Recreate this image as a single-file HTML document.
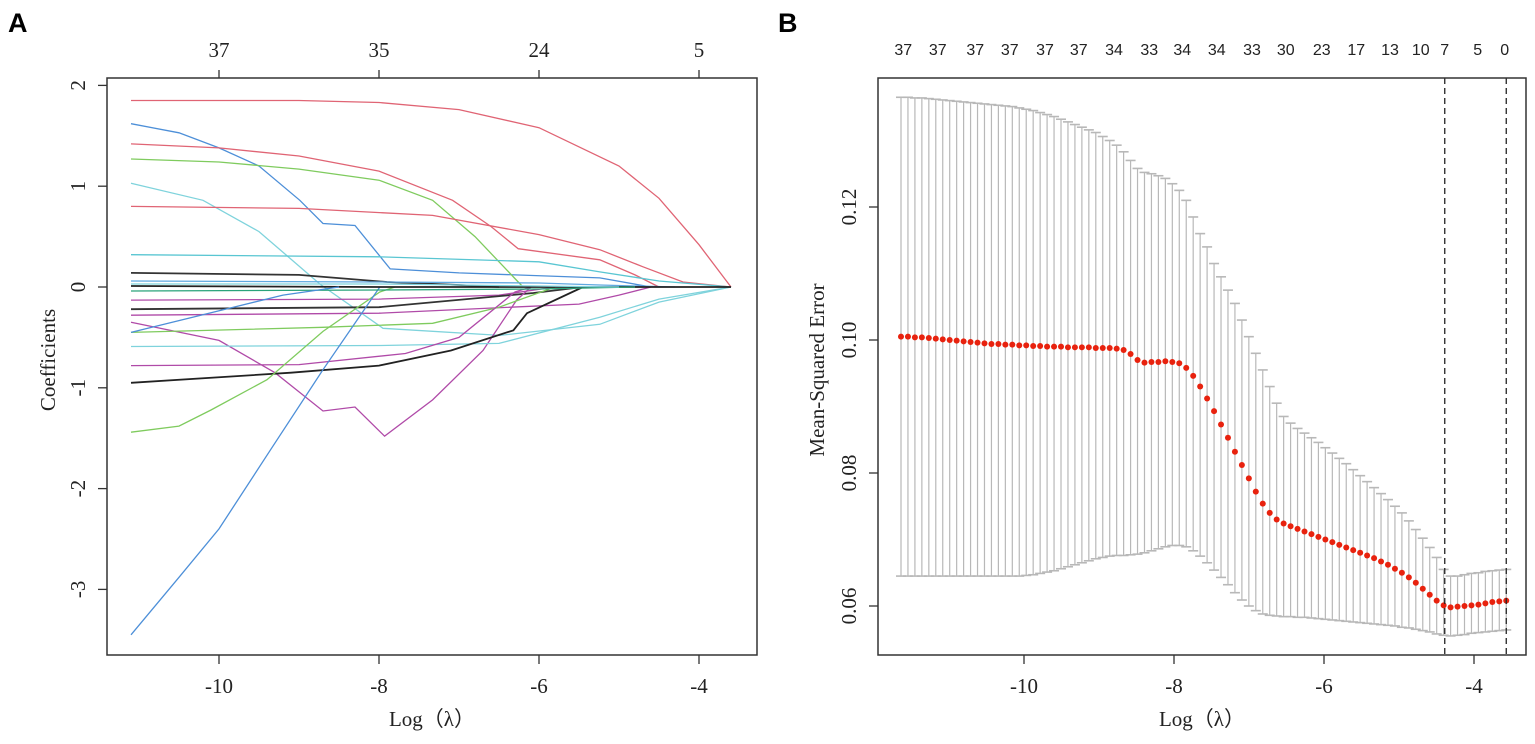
<!DOCTYPE html>
<html><head><meta charset="utf-8"><style>
html,body{margin:0;padding:0;background:#fff;}
svg{display:block;}
</style></head><body>
<svg id="fig" width="1535" height="744" viewBox="0 0 1535 744" xmlns="http://www.w3.org/2000/svg">
<text x="8" y="32" font-family="Liberation Sans, sans-serif" font-weight="bold" font-size="27">A</text>
<text x="778" y="32" font-family="Liberation Sans, sans-serif" font-weight="bold" font-size="27">B</text>
<g id="pa"></g>
<g id="pb"></g>
</svg>
<script>
// ---------- Panel A data ----------
const aXTicks = [-10, -8, -6, -4];
const aYTicks = [2, 1, 0, -1, -2, -3];
const aTopTickPos = [-10, -8, -6, -4];
const aTopTickLabels = ["37", "35", "24", "5"];
const aColors = ["#e06474","#4d8fd8","#e06474","#7fcb5e","#7fd3dc","#e06474","#59c6d2","#333333","#5fa8e0","#b04aa8","#333333","#b04aa8","#b04aa8","#7fcb5e","#7fd3dc","#b04aa8","#222222","#7fcb5e","#4d8fd8","#222222","#2aa37a","#7fd3dc","#4d8fd8"];
const aPaths = [
 [[-11.1,1.85],[-9,1.85],[-8,1.83],[-7,1.76],[-6,1.58],[-5,1.2],[-4.5,0.88],[-4,0.42],[-3.6,0]],
 [[-11.1,1.62],[-10.5,1.53],[-10,1.38],[-9.5,1.2],[-8.99,0.86],[-8.7,0.63],[-8.3,0.61],[-7.86,0.18],[-7,0.14],[-5.24,0.09],[-4.6,0]],
 [[-11.1,1.42],[-10,1.38],[-9,1.3],[-8,1.15],[-7.08,0.86],[-6.6,0.6],[-6.26,0.38],[-5.24,0.27],[-4.8,0.12],[-4.5,0]],
 [[-11.1,1.27],[-10,1.24],[-9,1.17],[-8,1.06],[-7.33,0.86],[-6.8,0.5],[-6.2,0]],
 [[-11.1,1.03],[-10.2,0.86],[-9.5,0.55],[-8.74,0.03],[-7.95,-0.41],[-6.49,-0.48],[-5.24,-0.37],[-4.5,-0.15],[-3.6,0]],
 [[-11.1,0.8],[-9,0.78],[-7.33,0.71],[-6,0.52],[-5.24,0.37],[-4.7,0.2],[-4.2,0.05],[-3.6,0]],
 [[-11.1,0.32],[-8,0.3],[-6,0.25],[-5.24,0.15],[-4.5,0.06],[-3.6,0]],
 [[-11.1,0.14],[-9,0.12],[-7.9,0.05],[-7,0.02],[-6.5,0]],
 [[-11.1,0.06],[-8,0.05],[-6,0.04],[-5.24,0.02],[-4.3,0]],
 [[-11.1,-0.13],[-8,-0.12],[-6.5,-0.08],[-5.8,0]],
 [[-11.1,-0.22],[-8,-0.2],[-6.07,-0.06],[-5.45,0]],
 [[-11.1,-0.28],[-8,-0.26],[-5.5,-0.17],[-5,-0.08],[-4.6,0]],
 [[-11.1,-0.35],[-10,-0.53],[-9.3,-0.85],[-8.7,-1.23],[-8.3,-1.19],[-7.93,-1.48],[-7.33,-1.12],[-6.7,-0.63],[-6.28,-0.13],[-6.1,0]],
 [[-11.1,-0.45],[-8.7,-0.4],[-7.33,-0.36],[-6.5,-0.2],[-5.8,0]],
 [[-11.1,-0.59],[-8,-0.58],[-6.5,-0.56],[-5.24,-0.3],[-4.5,-0.12],[-3.6,0]],
 [[-11.1,-0.78],[-9,-0.77],[-7.67,-0.66],[-7,-0.5],[-6.3,-0.05],[-6.1,0]],
 [[-11.1,-0.95],[-9.1,-0.85],[-8,-0.78],[-7.1,-0.63],[-6.32,-0.43],[-6.15,-0.26],[-5.45,0]],
 [[-11.1,-1.44],[-10.5,-1.38],[-10.1,-1.22],[-9.4,-0.92],[-8.7,-0.44],[-7.99,-0.05],[-7.8,0]],
 [[-11.1,-3.45],[-10.5,-2.88],[-10,-2.4],[-9.36,-1.62],[-8.7,-0.82],[-7.99,0]],
 [[-11.1,0.01],[-8,0.0],[-3.6,0]],
 [[-11.1,-0.04],[-8,-0.03],[-6,-0.02],[-4.8,0]],
 [[-11.1,0.03],[-8,0.03],[-6,0.01],[-5,0]],
 [[-11.1,-0.45],[-9.82,-0.2],[-9.2,-0.08],[-8.5,0]]
];
// ---------- Panel B data ----------
const bXTicks = [-10, -8, -6, -4];
const bYTicks = [0.06, 0.08, 0.10, 0.12];
const bYTickLabels = ["0.06", "0.08", "0.10", "0.12"];
const bTopPos = [-11.61,-11.15,-10.65,-10.19,-9.72,-9.27,-8.80,-8.33,-7.89,-7.43,-6.96,-6.51,-6.03,-5.57,-5.12,-4.71,-4.39,-3.95,-3.59];
const bTopLabels = ["37","37","37","37","37","37","34","33","34","34","33","30","23","17","13","10","7","5","0"];
const bLambdaStart = -11.64, bLambdaEnd = -3.57;
const bMean = [0.1005,0.1005,0.1004,0.1004,0.1003,0.1002,0.1001,0.1000,0.0999,0.0998,
0.0997,0.0996,0.0995,0.0994,0.0994,0.0993,0.0993,0.0992,0.0992,0.0991,
0.0991,0.0990,0.0990,0.0990,0.0989,0.0989,0.0989,0.0989,0.0988,0.0988,
0.0988,0.0987,0.0985,0.0979,0.0970,0.0966,0.0967,0.0967,0.0968,0.0967,
0.0965,0.0958,0.0946,0.0930,0.0912,0.0893,0.0873,0.0853,0.0832,0.0812,
0.0792,0.0772,0.0754,0.0740,0.0730,0.0724,0.0720,0.0716,0.0712,0.0708,
0.0704,0.0700,0.0696,0.0692,0.0688,0.0684,0.0680,0.0676,0.0672,0.0667,
0.0662,0.0656,0.0650,0.0643,0.0635,0.0626,0.0617,0.0608,0.0601,0.0598,
0.0599,0.0600,0.0601,0.0602,0.0604,0.0606,0.0607,0.0608];
const bUpper = [0.1365,0.1365,0.1364,0.1364,0.1363,0.1362,0.1361,0.1360,0.1359,0.1358,
0.1357,0.1356,0.1355,0.1354,0.1353,0.1352,0.1351,0.1349,0.1347,0.1345,
0.1342,0.1339,0.1336,0.1332,0.1328,0.1324,0.1320,0.1316,0.1312,0.1306,
0.1300,0.1293,0.1283,0.1270,0.1258,0.1252,0.1250,0.1247,0.1243,0.1235,
0.1225,0.1210,0.1185,0.1160,0.1140,0.1115,0.1095,0.1075,0.1055,0.1030,
0.1005,0.0980,0.0955,0.0930,0.0905,0.0885,0.0875,0.0867,0.0860,0.0853,
0.0846,0.0838,0.0830,0.0822,0.0814,0.0805,0.0796,0.0787,0.0778,0.0769,
0.0760,0.0750,0.0740,0.0728,0.0715,0.0702,0.0688,0.0673,0.0655,0.0645,
0.0645,0.0647,0.0649,0.0650,0.0652,0.0653,0.0654,0.0655];
const bLower = [0.0645,0.0645,0.0645,0.0645,0.0645,0.0645,0.0645,0.0645,0.0645,0.0645,
0.0645,0.0645,0.0645,0.0645,0.0645,0.0645,0.0645,0.0645,0.0646,0.0647,
0.0649,0.0651,0.0653,0.0656,0.0659,0.0662,0.0665,0.0668,0.0671,0.0673,
0.0675,0.0676,0.0676,0.0677,0.0678,0.0680,0.0683,0.0686,0.0689,0.0691,
0.0691,0.0689,0.0683,0.0675,0.0665,0.0654,0.0643,0.0632,0.0620,0.0609,
0.0600,0.0593,0.0588,0.0586,0.0585,0.0584,0.0584,0.0583,0.0583,0.0582,
0.0581,0.0580,0.0579,0.0578,0.0577,0.0576,0.0575,0.0574,0.0573,0.0572,
0.0571,0.0570,0.0568,0.0567,0.0565,0.0563,0.0561,0.0558,0.0556,0.0555,
0.0556,0.0557,0.0559,0.0560,0.0561,0.0562,0.0563,0.0564];
const bVLines = [-4.39, -3.57];

const NS = "http://www.w3.org/2000/svg";
function mk(parent, tag, attrs, text) {
  const e = document.createElementNS(NS, tag);
  for (const k in attrs) e.setAttribute(k, attrs[k]);
  if (text !== undefined) e.textContent = text;
  parent.appendChild(e);
  return e;
}
const SERIF = "Liberation Serif, serif";
const SANS = "Liberation Sans, sans-serif";

// ---------- Panel A ----------
(function(){
  const g = document.getElementById('pa');
  const L = 107, R = 757, T = 78, B = 655;
  const X = v => 219 + (v + 10) * 80;
  const Y = v => 287 - v * 100.8;
  aPaths.forEach((p, i) => {
    const pl = mk(g, 'polyline', {points: p.map(q => X(q[0]).toFixed(1) + ',' + Y(q[1]).toFixed(1)).join(' '), fill: 'none', stroke: aColors[i % aColors.length], 'stroke-width': (aColors[i] === '#333333' || aColors[i] === '#222222') ? 1.8 : 1.3});
    
    
  });
  const box = mk(g, 'rect', {x: L, y: T, width: R - L, height: B - T, fill: 'none', stroke: '#333', 'stroke-width': 1.5});
  
  
  aXTicks.forEach(v => {
    const t = mk(g, 'line', {x1: X(v), x2: X(v), y1: B, y2: B + 9, stroke: '#333', 'stroke-width': 1.3});
    
    
    const l = mk(g, 'text', {x: X(v), y: B + 38, 'text-anchor': 'middle', 'font-family': SERIF, 'font-size': 21, fill: '#222'}, String(v));
    
    
  });
  aYTicks.forEach(v => {
    const t = mk(g, 'line', {x1: L - 9, x2: L, y1: Y(v), y2: Y(v), stroke: '#333', 'stroke-width': 1.3});
    
    
    const l = mk(g, 'text', {x: 0, y: 0, 'text-anchor': 'middle', 'font-family': SERIF, 'font-size': 21, fill: '#222', transform: 'translate(' + (L - 22) + ',' + Y(v) + ') rotate(-90)'}, String(v));
    
    
  });
  aTopTickPos.forEach((v, i) => {
    const t = mk(g, 'line', {x1: X(v), x2: X(v), y1: T - 8, y2: T, stroke: '#333', 'stroke-width': 1.3});
    
    
    const l = mk(g, 'text', {x: X(v), y: 57, 'text-anchor': 'middle', 'font-family': SERIF, 'font-size': 21, fill: '#222'}, aTopTickLabels[i]);
    
    
  });
  const xt = mk(g, 'text', {x: 432, y: 726, 'text-anchor': 'middle', 'font-family': SERIF + ', Noto Sans CJK SC', 'font-size': 21, fill: '#222'}, 'Log（λ）');
  
  
  const yt = mk(g, 'text', {x: 0, y: 0, 'text-anchor': 'middle', 'font-family': SERIF, 'font-size': 21, fill: '#222', transform: 'translate(55,360) rotate(-90)'}, 'Coefficients');
  
  
})();

// ---------- Panel B ----------
(function(){
  const g = document.getElementById('pb');
  const L = 878, R = 1526, T = 78, B = 655;
  const X = v => 1474 + (v + 4) * 75;
  const Y = v => 606 - (v - 0.06) * 6650;
  const n = bMean.length;
  const step = (bLambdaEnd - bLambdaStart) / (n - 1);
  for (let i = 0; i < n; i++) {
    const lx = X(bLambdaStart + i * step);
    const bar = mk(g, 'line', {x1: lx, x2: lx, y1: Y(bUpper[i]), y2: Y(bLower[i]), stroke: '#b8b8b8', 'stroke-width': 1.2});
    
    
    const c1 = mk(g, 'line', {x1: lx - 5, x2: lx + 5, y1: Y(bUpper[i]), y2: Y(bUpper[i]), stroke: '#b8b8b8', 'stroke-width': 1.6});
    
    
    const c2 = mk(g, 'line', {x1: lx - 5, x2: lx + 5, y1: Y(bLower[i]), y2: Y(bLower[i]), stroke: '#b8b8b8', 'stroke-width': 1.6});
    
    
  }
  for (let i = 0; i < n; i++) {
    const d = mk(g, 'circle', {cx: X(bLambdaStart + i * step), cy: Y(bMean[i]), r: 3, fill: '#e8220e'});
    
    
  }
  bVLines.forEach(v => {
    const l = mk(g, 'line', {x1: X(v), x2: X(v), y1: T, y2: B, stroke: '#222', 'stroke-width': 1.3, 'stroke-dasharray': '6,4'});
    
    
  });
  const box = mk(g, 'rect', {x: L, y: T, width: R - L, height: B - T, fill: 'none', stroke: '#333', 'stroke-width': 1.5});
  
  
  bXTicks.forEach(v => {
    const t = mk(g, 'line', {x1: X(v), x2: X(v), y1: B, y2: B + 9, stroke: '#333', 'stroke-width': 1.3});
    
    
    const l = mk(g, 'text', {x: X(v), y: B + 38, 'text-anchor': 'middle', 'font-family': SERIF, 'font-size': 21, fill: '#222'}, String(v));
    
    
  });
  bYTicks.forEach((v, i) => {
    const t = mk(g, 'line', {x1: L - 9, x2: L, y1: Y(v), y2: Y(v), stroke: '#333', 'stroke-width': 1.3});
    
    
    const l = mk(g, 'text', {x: 0, y: 0, 'text-anchor': 'middle', 'font-family': SERIF, 'font-size': 21, fill: '#222', transform: 'translate(' + (L - 22) + ',' + Y(v) + ') rotate(-90)'}, bYTickLabels[i]);
    
    
  });
  bTopPos.forEach((v, i) => {
    const l = mk(g, 'text', {x: X(v), y: 55, 'text-anchor': 'middle', 'font-family': SANS, 'font-size': 16, fill: '#222'}, bTopLabels[i]);
    
    
  });
  const xt = mk(g, 'text', {x: 1202, y: 726, 'text-anchor': 'middle', 'font-family': SERIF + ', Noto Sans CJK SC', 'font-size': 21, fill: '#222'}, 'Log（λ）');
  
  
  const yt = mk(g, 'text', {x: 0, y: 0, 'text-anchor': 'middle', 'font-family': SERIF, 'font-size': 21, fill: '#222', transform: 'translate(824,370) rotate(-90)'}, 'Mean-Squared Error');
  
  
})();
</script>
</body></html>
